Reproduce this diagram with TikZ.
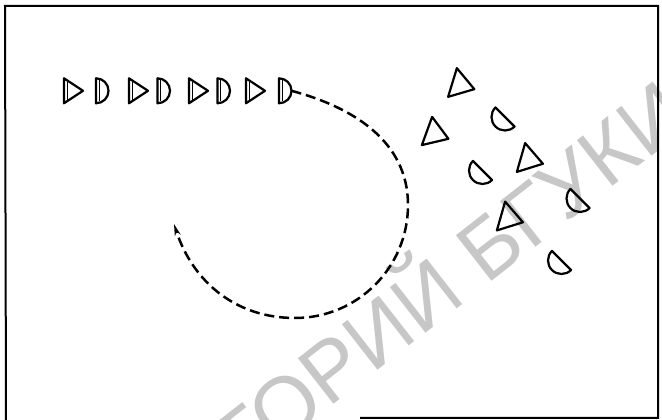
\documentclass[tikz,border=0pt]{standalone}
\usepackage{fontspec}
\newfontfamily\stampfont{Liberation Sans}
\usetikzlibrary{arrows.meta}

\begin{document}
\begin{tikzpicture}[
  x=1pt, y=1pt,
  outline/.style={draw=black, line width=2.2pt, line join=round},
  inner/.style={draw=black, line width=1pt},
  frame/.style={draw=black, line width=2pt},
  stamp/.style={font=\stampfont\fontsize{84}{84}\selectfont, text=black!22, rotate=38, inner sep=0pt},
  run/.style={-{Stealth[length=12pt, width=6pt]}, line width=2.5pt, dash pattern=on 10pt off 5pt},
  wedge/.pic={
    \draw[outline] (0,12.5) -- (19,0) -- (0,-12.5) -- cycle;
  },
  wedge row/.pic={
    \draw[outline] (0,12.5) -- (19,0) -- (0,-12.5) -- cycle;
    \draw[inner] (3.4,9) -- (3.4,-9);
  },
  cap/.pic={
    \draw[outline] (0,-12.5) arc[start angle=-90, end angle=90, radius=12.5] -- cycle;
  },
  cap row/.pic={
    \draw[outline] (0,-12.5) arc[start angle=-90, end angle=90, radius=12.5] -- cycle;
    \draw[inner] (3.4,10.5) -- (3.4,-10.5);
    \coordinate (-apex) at (12.5,0);
  }
]
\useasboundingbox (0,0) rectangle (662,420);
\fill[white] (0,0) rectangle (662,420);

% watermark across the sheet
\begin{scope}
  \clip (0,0) rectangle (662,420);
  \node[stamp, anchor=base east] (wm1) at (468,120) {РЕПОЗИТОРИЙ};
  \node[stamp, anchor=base west] (wm2) at (486.5,134.5) {БГУКИ};
\end{scope}

% frame (lower left part is lost in the print)
\draw[frame] (360,2) -- (658,2) -- (658,414) -- (5,414) -- (6,0);

% the row, left to right
\pic (t1) at (64,329.2)  {wedge row};
\pic (d1) at (96,329.2)  {cap row};
\pic (t2) at (129,329.2) {wedge row};
\pic (d2) at (157.5,329.2) {cap row};
\pic (t3) at (189,329.2) {wedge row};
\pic (d3) at (217.5,329.2) {cap row};
\pic (t4) at (246,329.2) {wedge row};
\pic (d4) at (279,329.2) {cap row};

% the scattered group on the right
\pic[scale=1.2, rotate=-17] (a1) at (452.5,337.5) {wedge};
\pic[scale=1.2, rotate=-20] (a2) at (427,289)     {wedge};
\pic[scale=1.2, rotate=-16] (a3) at (521,262.5)   {wedge};
\pic[scale=1.2, rotate=-16] (a4) at (501,204)     {wedge};
\pic[scale=1.08, rotate=-135] (b1) at (505,303)   {cap};
\pic[scale=1.08, rotate=-135] (b2) at (482.5,249.5) {cap};
\pic[scale=1.08, rotate=-135] (b3) at (580,221.5) {cap};
\pic[scale=1.08, rotate=-135] (b4) at (561.5,159.5) {cap};

% dashed run of the last one
\coordinate (turn1) at (408,215);
\coordinate (turn2) at (295,102);
\coordinate (stop) at (174,196);
\draw[run] (d4-apex) to[out=-15, in=90] (turn1) to[out=-90, in=0] (turn2) to[out=180, in=-72] (stop);

\end{tikzpicture}
\end{document}
